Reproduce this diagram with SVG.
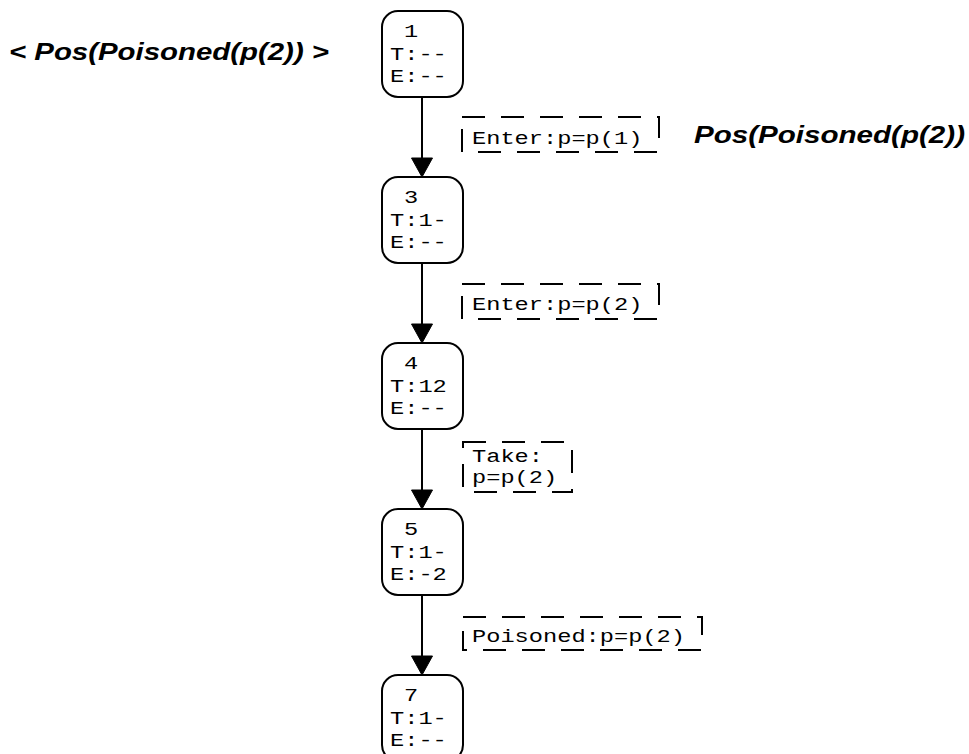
<svg xmlns="http://www.w3.org/2000/svg" width="969" height="754" viewBox="0 0 969 754">
  <style>
    .node rect { fill: #fff; stroke: #000; stroke-width: 2; }
    .mono { font-family: "Liberation Mono", "DejaVu Sans Mono", monospace; font-size: 18px; fill: #000; }
    .lbl rect { fill: none; stroke: #000; stroke-width: 2; stroke-dasharray: 23 16; }
    .formula { font-family: "Liberation Sans", Arial, sans-serif; font-size: 24px; font-weight: bold; font-style: italic; fill: #000; }
    .edge line { stroke: #000; stroke-width: 2; }
    .edge polygon { fill: #000; stroke: #000; stroke-width: 1; }
  </style>
  <rect width="969" height="754" fill="#fff"/>

  <!-- formulas -->
  <text class="formula" x="9" y="60" textLength="320" lengthAdjust="spacingAndGlyphs">&lt; Pos(Poisoned(p(2)) &gt;</text>
  <text class="formula" x="694" y="143" textLength="271" lengthAdjust="spacingAndGlyphs">Pos(Poisoned(p(2))</text>

  <!-- connectors -->
  <g id="edges" class="edge">
    <line x1="422" y1="97" x2="422" y2="160"/>
    <polygon points="411.5,158 432.5,158 422,177"/>
    <line x1="422" y1="263" x2="422" y2="326"/>
    <polygon points="411.5,324 432.5,324 422,343"/>
    <line x1="422" y1="429" x2="422" y2="492"/>
    <polygon points="411.5,490 432.5,490 422,509"/>
    <line x1="422" y1="595" x2="422" y2="658"/>
    <polygon points="411.5,656 432.5,656 422,675"/>
  </g>

  <!-- edge labels -->
  <g id="label-1-3" class="lbl">
    <rect x="462" y="117" width="197" height="35"/>
    <text class="mono" x="472" y="144" textLength="170.4" lengthAdjust="spacingAndGlyphs">Enter:p=p(1)</text>
  </g>
  <g id="label-3-4" class="lbl">
    <rect x="462" y="284" width="197" height="35"/>
    <text class="mono" x="472" y="310" textLength="170.4" lengthAdjust="spacingAndGlyphs">Enter:p=p(2)</text>
  </g>
  <g id="label-4-5" class="lbl">
    <rect x="463" y="442" width="109" height="50"/>
    <text class="mono" x="472" y="462" textLength="71" lengthAdjust="spacingAndGlyphs">Take:</text>
    <text class="mono" x="472" y="482.5" textLength="85.2" lengthAdjust="spacingAndGlyphs">p=p(2)</text>
  </g>
  <g id="label-5-7" class="lbl">
    <rect x="463" y="617" width="239" height="33"/>
    <text class="mono" x="472" y="642" textLength="213" lengthAdjust="spacingAndGlyphs">Poisoned:p=p(2)</text>
  </g>

  <!-- states -->
  <g id="node-1" class="node">
    <rect x="382" y="11" width="81" height="86" rx="16"/>
    <text class="mono" x="404" y="37" textLength="14.2" lengthAdjust="spacingAndGlyphs">1</text>
    <text class="mono" x="390" y="60" textLength="56.8" lengthAdjust="spacingAndGlyphs">T:--</text>
    <text class="mono" x="390" y="82" textLength="56.8" lengthAdjust="spacingAndGlyphs">E:--</text>
  </g>
  <g id="node-3" class="node">
    <rect x="382" y="177" width="81" height="86" rx="16"/>
    <text class="mono" x="404" y="203" textLength="14.2" lengthAdjust="spacingAndGlyphs">3</text>
    <text class="mono" x="390" y="226" textLength="56.8" lengthAdjust="spacingAndGlyphs">T:1-</text>
    <text class="mono" x="390" y="248" textLength="56.8" lengthAdjust="spacingAndGlyphs">E:--</text>
  </g>
  <g id="node-4" class="node">
    <rect x="382" y="343" width="81" height="86" rx="16"/>
    <text class="mono" x="404" y="369" textLength="14.2" lengthAdjust="spacingAndGlyphs">4</text>
    <text class="mono" x="390" y="392" textLength="56.8" lengthAdjust="spacingAndGlyphs">T:12</text>
    <text class="mono" x="390" y="414" textLength="56.8" lengthAdjust="spacingAndGlyphs">E:--</text>
  </g>
  <g id="node-5" class="node">
    <rect x="382" y="509" width="81" height="86" rx="16"/>
    <text class="mono" x="404" y="535" textLength="14.2" lengthAdjust="spacingAndGlyphs">5</text>
    <text class="mono" x="390" y="558" textLength="56.8" lengthAdjust="spacingAndGlyphs">T:1-</text>
    <text class="mono" x="390" y="580" textLength="56.8" lengthAdjust="spacingAndGlyphs">E:-2</text>
  </g>
  <g id="node-7" class="node">
    <rect x="382" y="675" width="81" height="86" rx="16"/>
    <text class="mono" x="404" y="701" textLength="14.2" lengthAdjust="spacingAndGlyphs">7</text>
    <text class="mono" x="390" y="724" textLength="56.8" lengthAdjust="spacingAndGlyphs">T:1-</text>
    <text class="mono" x="390" y="746" textLength="56.8" lengthAdjust="spacingAndGlyphs">E:--</text>
  </g>
</svg>
